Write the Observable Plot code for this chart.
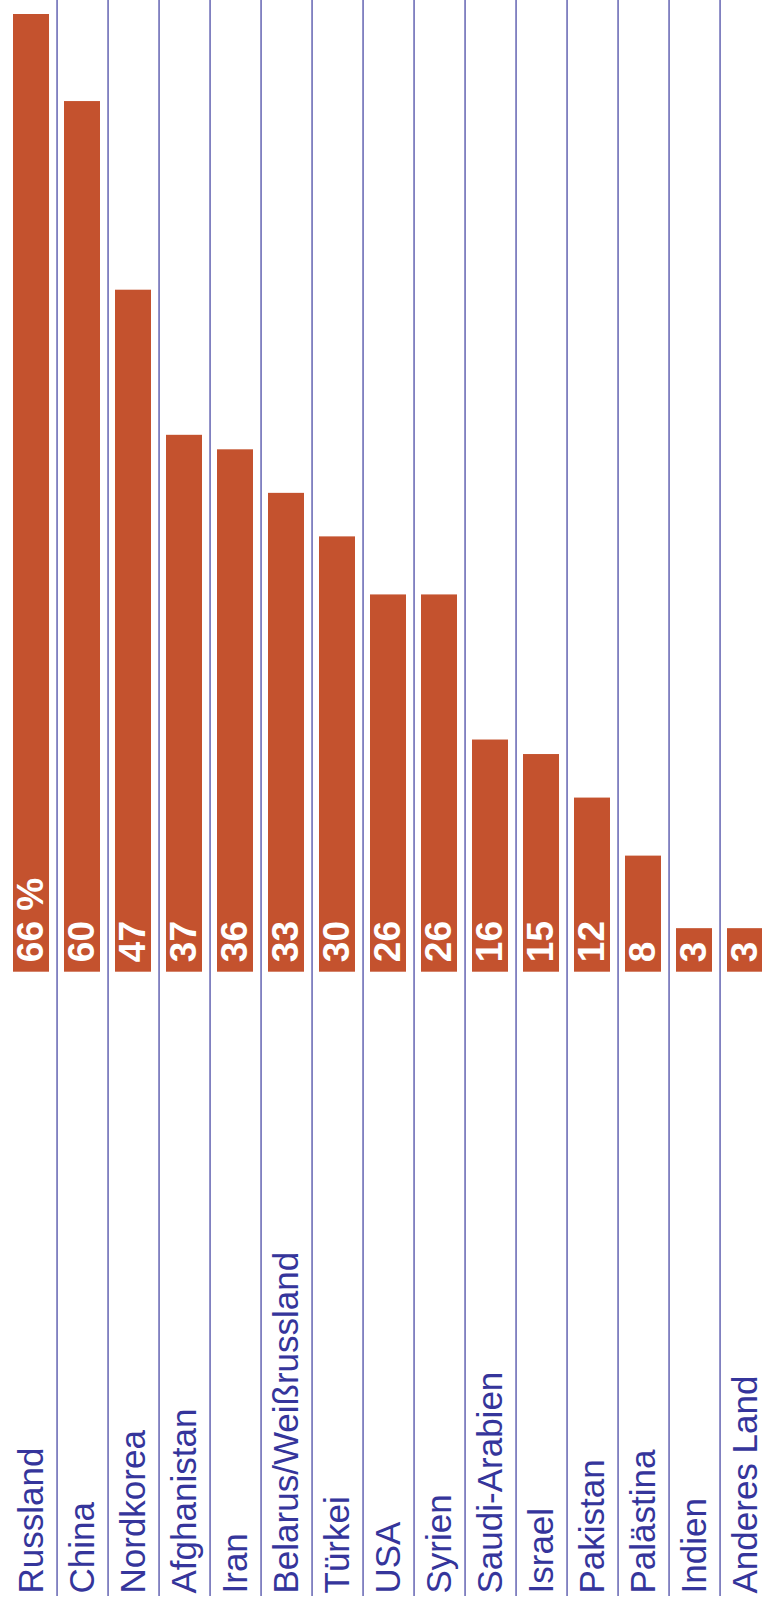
<!DOCTYPE html>
<html>
<head>
<meta charset="utf-8">
<script src="https://cdn.jsdelivr.net/npm/d3@7"></script>
<script src="https://cdn.jsdelivr.net/npm/@observablehq/plot@0.6"></script>
<style>
  html, body { margin: 0; padding: 0; background: #ffffff; }
  #chart svg { display: block; }
</style>
</head>
<body>
<div id="chart"></div>
<script>
const countries = ["Russland", "China", "Nordkorea", "Afghanistan", "Iran", "Belarus/Weißrussland", "Türkei", "USA", "Syrien", "Saudi-Arabien", "Israel", "Pakistan", "Palästina", "Indien", "Anderes Land"];
const values = [66, 60, 47, 37, 36, 33, 30, 26, 26, 16, 15, 12, 8, 3, 3];
const valueLabels = ["66 %", "60", "47", "37", "36", "33", "30", "26", "26", "16", "15", "12", "8", "3", "3"];

const data = countries.map((c, i) => ({country: c, value: values[i], label: valueLabels[i]}));

const W = 762, H = 1608;
const step = (771.8 - 5.3) / countries.length;

const chart = Plot.plot({
  width: W,
  height: H,
  marginTop: 0,
  marginBottom: 12,
  marginLeft: 0,
  marginRight: 0,
  style: {background: "#ffffff", overflow: "hidden"},
  x: {domain: countries, range: [5.3, 771.8], paddingInner: 0.286, paddingOuter: 0.143, axis: null},
  y: {domain: [0, 66], range: [971.7, 14], axis: null},
  marks: [
    Plot.ruleX(countries.slice(0, -1), {x: d => d, dx: step / 2, stroke: "#2a2a95", strokeWidth: 1.1}),
    Plot.barY(data, {x: "country", y: "value", fill: "#c4522e"}),
    Plot.text(data, {
      x: "country", y: 0, text: "label", rotate: -90, textAnchor: "start", lineAnchor: "middle",
      dy: -10, fill: "#ffffff", fontSize: 37, fontWeight: "bold", fontFamily: "Liberation Sans, Arial, sans-serif"
    }),
    Plot.text(data, {
      x: "country", text: "country", frameAnchor: "bottom", rotate: -90, textAnchor: "start", lineAnchor: "middle",
      dy: -3, fill: "#35359b", fontSize: 35, fontFamily: "Liberation Sans, Arial, sans-serif"
    })
  ]
});
document.getElementById("chart").appendChild(chart);
</script>
</body>
</html>
